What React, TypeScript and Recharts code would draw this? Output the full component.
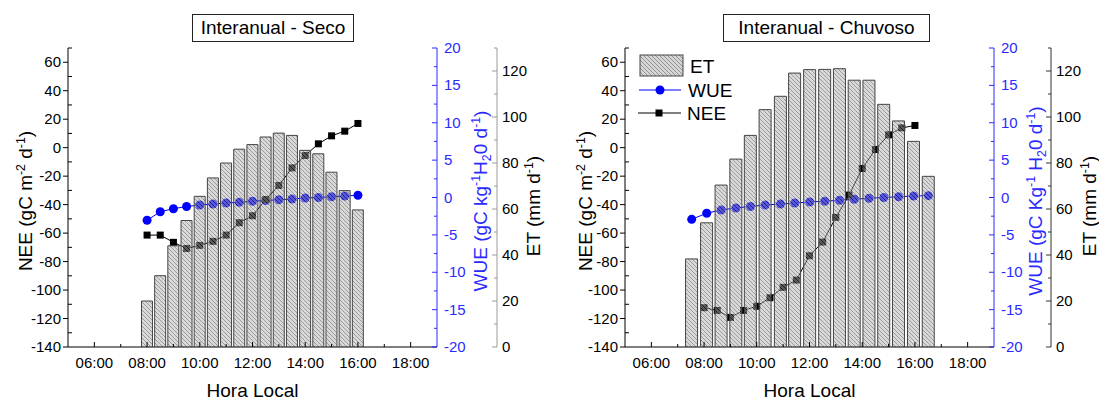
import React from 'react';
import { ComposedChart, Bar, Line, XAxis, YAxis, Legend } from 'recharts';

const FONT = 'Arial, "Liberation Sans", sans-serif';
const BLUE = '#0000ff';
const AXIS_BLUE = '#2a2aff';

// Seco: half-hourly means, 08:00 to 16:00
const horasSeco = [8, 8.5, 9, 9.5, 10, 10.5, 11, 11.5, 12, 12.5, 13, 13.5, 14, 14.5, 15, 15.5, 16];
const etSeco = [20, 31, 44, 55, 65.5, 73.5, 80, 86, 88, 91.3, 93, 92, 85.5, 84, 76, 68, 59.6];
const wueSeco = [-3.05, -1.9, -1.5, -1.2, -1.0, -0.87, -0.74, -0.65, -0.5, -0.4, -0.3, -0.2, -0.07, 0, 0.1, 0.2, 0.3];
const neeSeco = [-61.4, -61.4, -66.5, -70.8, -68.6, -65.8, -61.4, -52.7, -47.8, -36.4, -26.5, -14.2, -5.5, 2.7, 8.3, 11.6, 17];

// Chuvoso: ET and WUE run 07:30 to 16:30, NEE 08:00 to 16:00
const horasChuvosoET = [7.53, 8.1, 8.65, 9.21, 9.76, 10.32, 10.9, 11.44, 12.01, 12.58, 13.14, 13.7, 14.26, 14.82, 15.38, 15.95, 16.51];
const etChuvoso = [38.3, 54, 70.4, 81.7, 92, 103.2, 109, 119.1, 120.6, 120.7, 121, 116, 116, 105.5, 98.3, 89.4, 74.2];
const wueChuvoso = [-2.92, -2.1, -1.67, -1.4, -1.2, -1.0, -0.87, -0.74, -0.6, -0.5, -0.37, -0.24, -0.1, 0, 0.1, 0.2, 0.25];
const horasChuvosoNEE = [8, 8.5, 9, 9.5, 10, 10.5, 11, 11.5, 12, 12.5, 13, 13.5, 14, 14.5, 15, 15.5, 16];
const neeChuvoso = [-112.4, -114.3, -119.2, -114.3, -111.4, -105.4, -98.1, -93, -75.9, -66.3, -49, -33.3, -14.6, -1.3, 9, 13.9, 15.6];

const hourTicks = [6, 7, 8, 9, 10, 11, 12, 13, 14, 15, 16, 17, 18];
const neeTicks = [-140, -130, -120, -110, -100, -90, -80, -70, -60, -50, -40, -30, -20, -10, 0, 10, 20, 30, 40, 50, 60, 70];
const wueTicks = [-20, -17.5, -15, -12.5, -10, -7.5, -5, -2.5, 0, 2.5, 5, 7.5, 10, 12.5, 15, 17.5, 20];
const etTicks = [0, 10, 20, 30, 40, 50, 60, 70, 80, 90, 100, 110, 120, 130];
const legendNames = ['ET', 'WUE', 'NEE'];

type Part = [string, 'n' | 'sup' | 'sub'];

const neeLabel: Part[] = [['NEE (gC m', 'n'], ['-2', 'sup'], [' d', 'n'], ['-1', 'sup'], [')', 'n']];
const etLabel: Part[] = [['ET (mm d', 'n'], ['-1', 'sup'], [')', 'n']];
const wueLabelSeco: Part[] = [['WUE (gC kg', 'n'], ['-1', 'sup'], ['H', 'n'], ['2', 'sub'], ['0 d', 'n'], ['-1', 'sup'], [')', 'n']];
const wueLabelChuvoso: Part[] = [['WUE (gC Kg', 'n'], ['-1', 'sup'], [' H', 'n'], ['2', 'sub'], ['0 d', 'n'], ['-1', 'sup'], [')', 'n']];

function RichText({ parts, size }: { parts: Part[]; size: number }) {
  let shift = 0;
  return (
    <>
      {parts.map(([s, kind], i) => {
        const target = kind === 'sup' ? -7 : kind === 'sub' ? 4 : 0;
        const dy = target - shift;
        shift = target;
        return (
          <tspan key={i} dy={dy} fontSize={kind === 'n' ? size : size * 0.65}>{s}</tspan>
        );
      })}
    </>
  );
}

// rotated axis title; dx is the baseline position measured from the axis box
function VLabel(props: any) {
  const { viewBox, dx, cy, parts, color } = props;
  const x = viewBox.x + dx;
  return (
    <text x={x} y={cy} transform={`rotate(-90 ${x} ${cy})`} textAnchor="middle"
      fill={color} fontFamily={FONT} fontSize={19}>
      <RichText parts={parts} size={19} />
    </text>
  );
}

function HoraLabel(props: any) {
  const { viewBox } = props;
  return (
    <text x={viewBox.x + viewBox.width / 2} y={397} textAnchor="middle" fontFamily={FONT} fontSize={19} fill="#000">
      Hora Local
    </text>
  );
}

const fmtHour = (h: number) => `${String(h).padStart(2, '0')}:00`;

function HourTick(props: any) {
  const { x, y, payload } = props;
  const major = payload.value % 2 === 0;
  return (
    <g>
      <line x1={x} x2={x} y1={y} y2={y - (major ? 5 : 3)} stroke="#000" />
      {major && (
        <text x={x} y={y + 21} textAnchor="middle" fontFamily={FONT} fontSize={15} fill="#000">
          {fmtHour(payload.value)}
        </text>
      )}
    </g>
  );
}

function TopTick(props: any) {
  const { x, y, payload } = props;
  const major = payload.value % 2 === 0;
  return <line x1={x} x2={x} y1={y} y2={y + (major ? 5 : 3)} stroke="#000" />;
}

function NeeTick(props: any) {
  const { x, y, payload } = props;
  const major = payload.value % 20 === 0 && payload.value <= 60;
  if (!major) return <line x1={x} x2={x + 4} y1={y} y2={y} stroke="#000" />;
  return (
    <g>
      <line x1={x - 5} x2={x} y1={y} y2={y} stroke="#000" />
      <text x={x - 7} y={y + 5} textAnchor="end" fontFamily={FONT} fontSize={15} fill="#000">{payload.value}</text>
    </g>
  );
}

function WueTick(props: any) {
  const { x, y, payload } = props;
  const major = payload.value % 5 === 0;
  return (
    <g>
      <line x1={x - (major ? 5 : 3)} x2={x} y1={y} y2={y} stroke={AXIS_BLUE} />
      {major && (
        <text x={x + 7} y={y + 5} textAnchor="start" fontFamily={FONT} fontSize={15} fill={AXIS_BLUE}>{payload.value}</text>
      )}
    </g>
  );
}

function makeEtTick(color: string) {
  return function EtTick(props: any) {
    const { x, y, payload } = props;
    const major = payload.value % 20 === 0;
    return (
      <g>
        <line x1={x - (major ? 5 : 3)} x2={x} y1={y} y2={y} stroke={color} />
        {major && (
          <text x={x + 5} y={y + 5} textAnchor="start" fontFamily={FONT} fontSize={15} fill="#000">{payload.value}</text>
        )}
      </g>
    );
  };
}

const circleDot = (p: any) => (
  <circle key={`c${p.index}`} cx={p.cx} cy={p.cy} r={4.5} fill={BLUE} />
);
const squareDot = (p: any) => (
  <rect key={`s${p.index}`} x={p.cx - 3.5} y={p.cy - 3.5} width={7} height={7} fill="#000" />
);

function HatchPattern({ id }: { id: string }) {
  return (
    <defs>
      <pattern id={id} patternUnits="userSpaceOnUse" width={4} height={4}>
        <rect width={4} height={4} fill="#b4b4b4" />
        <path d="M0,0 L4,4 M-1,3 L1,5 M3,-1 L5,1" stroke="#1a1a1a" strokeWidth={0.8} />
      </pattern>
    </defs>
  );
}

function LegendBox({ hatchId }: { hatchId: string }) {
  return (
    <svg width={130} height={75} style={{ display: 'block', overflow: 'visible' }}>
      <rect x={4} y={3} width={43} height={21} fill={`url(#${hatchId})`} fillOpacity={0.55} stroke="#444" />
      <text x={54} y={21} fontFamily={FONT} fontSize={19} fill="#000">{legendNames[0]}</text>
      <line x1={3} x2={45} y1={38} y2={38} stroke={BLUE} />
      <circle cx={24} cy={38} r={4.5} fill={BLUE} />
      <text x={52} y={45} fontFamily={FONT} fontSize={19} fill="#000">{legendNames[1]}</text>
      <line x1={2} x2={45} y1={61} y2={61} stroke="#000" />
      <rect x={19.5} y={57.5} width={7} height={7} fill="#000" />
      <text x={51} y={68} fontFamily={FONT} fontSize={19} fill="#000">{legendNames[2]}</text>
    </svg>
  );
}

type PanelProps = {
  left: number;
  width: number;
  title: string;
  titleLeft: number;
  titleWidth: number;
  etHours: number[];
  et: number[];
  wue: number[];
  neeHours: number[];
  nee: number[];
  wueWidth: number;
  etWidth: number;
  etColor: string;
  barSize: number;
  hatchId: string;
  wueLabel: Part[];
  neeDx: number;
  wueDx: number;
  etDx: number;
  legend?: boolean;
};

function Panel(p: PanelProps) {
  const rows = p.etHours.map((h, i) => ({ h, et: p.et[i], wue: p.wue[i] }));
  const neeRows = p.neeHours.map((h, i) => ({ h, nee: p.nee[i] }));
  const EtTick = makeEtTick(p.etColor);
  return (
    <div style={{ position: 'absolute', left: p.left, top: 0, width: p.width, height: 400 }}>
      <div style={{
        position: 'absolute', left: p.titleLeft - p.left, top: 14, width: p.titleWidth, height: 28,
        boxSizing: 'border-box', border: '1px solid #222', display: 'flex', alignItems: 'center',
        justifyContent: 'center', fontFamily: FONT, fontSize: 19, color: '#000', background: '#fff',
      }}>
        {p.title}
      </div>
      <ComposedChart width={p.width} height={400} data={rows} margin={{ top: 48, right: 0, bottom: 0, left: 0 }}>
        <HatchPattern id={p.hatchId} />
        <XAxis xAxisId="n" dataKey="h" type="number" domain={[5, 19]} allowDataOverflow hide height={0} />
        <XAxis xAxisId="t" dataKey="h" type="number" domain={[5, 19]} allowDataOverflow ticks={hourTicks}
          interval={0} tickSize={0} tickMargin={0} tickLine={false} height={53}
          axisLine={{ stroke: '#000' }} tick={<HourTick />} label={<HoraLabel />} />
        <XAxis xAxisId="top" orientation="top" type="number" domain={[5, 19]} allowDataOverflow ticks={hourTicks}
          interval={0} tickSize={0} tickMargin={0} tickLine={false} height={0}
          axisLine={{ stroke: '#000' }} tick={<TopTick />} />
        <YAxis yAxisId="nee" orientation="left" type="number" width={68} domain={[-140, 70]} allowDataOverflow
          ticks={neeTicks} interval={0} tickSize={0} tickMargin={0} tickLine={false}
          axisLine={{ stroke: '#000' }} tick={<NeeTick />}
          label={<VLabel dx={p.neeDx} cy={201} parts={neeLabel} color="#000" />} />
        {/* right side: WUE next to the plot, ET further out */}
        <YAxis yAxisId="r1" orientation="right" type="number" width={p.wueWidth} domain={[-20, 20]} allowDataOverflow
          ticks={wueTicks} interval={0} tickSize={0} tickMargin={0} tickLine={false}
          axisLine={{ stroke: AXIS_BLUE }} tick={<WueTick />}
          label={<VLabel dx={p.wueDx} cy={201} parts={p.wueLabel} color={AXIS_BLUE} />} />
        <YAxis yAxisId="r2" orientation="right" type="number" width={p.etWidth} domain={[0, 130]} allowDataOverflow
          ticks={etTicks} interval={0} tickSize={0} tickMargin={0} tickLine={false}
          axisLine={{ stroke: p.etColor }} tick={<EtTick />}
          label={<VLabel dx={p.etDx} cy={206} parts={etLabel} color="#000" />} />
        <Line xAxisId="t" yAxisId="r1" dataKey="wue" stroke={BLUE} strokeWidth={1} dot={circleDot}
          activeDot={false} isAnimationActive={false} />
        <Line xAxisId="n" yAxisId="nee" data={neeRows} dataKey="nee" stroke="#000" strokeWidth={1}
          dot={squareDot} activeDot={false} isAnimationActive={false} />
        <Bar xAxisId="t" yAxisId="r2" dataKey="et" barSize={p.barSize} fill={`url(#${p.hatchId})`}
          fillOpacity={0.5} stroke="#444" strokeWidth={1} isAnimationActive={false} zIndex={700} />
        {p.legend && (
          <Legend layout="vertical" align="center" verticalAlign="middle"
            wrapperStyle={{ left: 636 - p.left, top: 52, width: 130 }}
            content={() => <LegendBox hatchId={p.hatchId} />} />
        )}
      </ComposedChart>
    </div>
  );
}

export default function App() {
  return (
    <div style={{ position: 'absolute', left: 0, top: 0, width: 1099, height: 400, background: '#fff' }}>
      <Panel left={0} width={560} title="Interanual - Seco" titleLeft={192} titleWidth={162}
        etHours={horasSeco} et={etSeco} wue={wueSeco} neeHours={horasSeco} nee={neeSeco}
        wueWidth={60} etWidth={63} etColor="#9a9a9a" barSize={11} hatchId="hatchSeco"
        wueLabel={wueLabelSeco} neeDx={32} wueDx={50} etDx={43} />
      <Panel left={557} width={542} title="Interanual - Chuvoso" titleLeft={723} titleWidth={207}
        etHours={horasChuvosoET} et={etChuvoso} wue={wueChuvoso} neeHours={horasChuvosoNEE} nee={neeChuvoso}
        wueWidth={57} etWidth={48} etColor="#333" barSize={12} hatchId="hatchChuvoso"
        wueLabel={wueLabelChuvoso} neeDx={35} wueDx={48} etDx={45} legend />
    </div>
  );
}
